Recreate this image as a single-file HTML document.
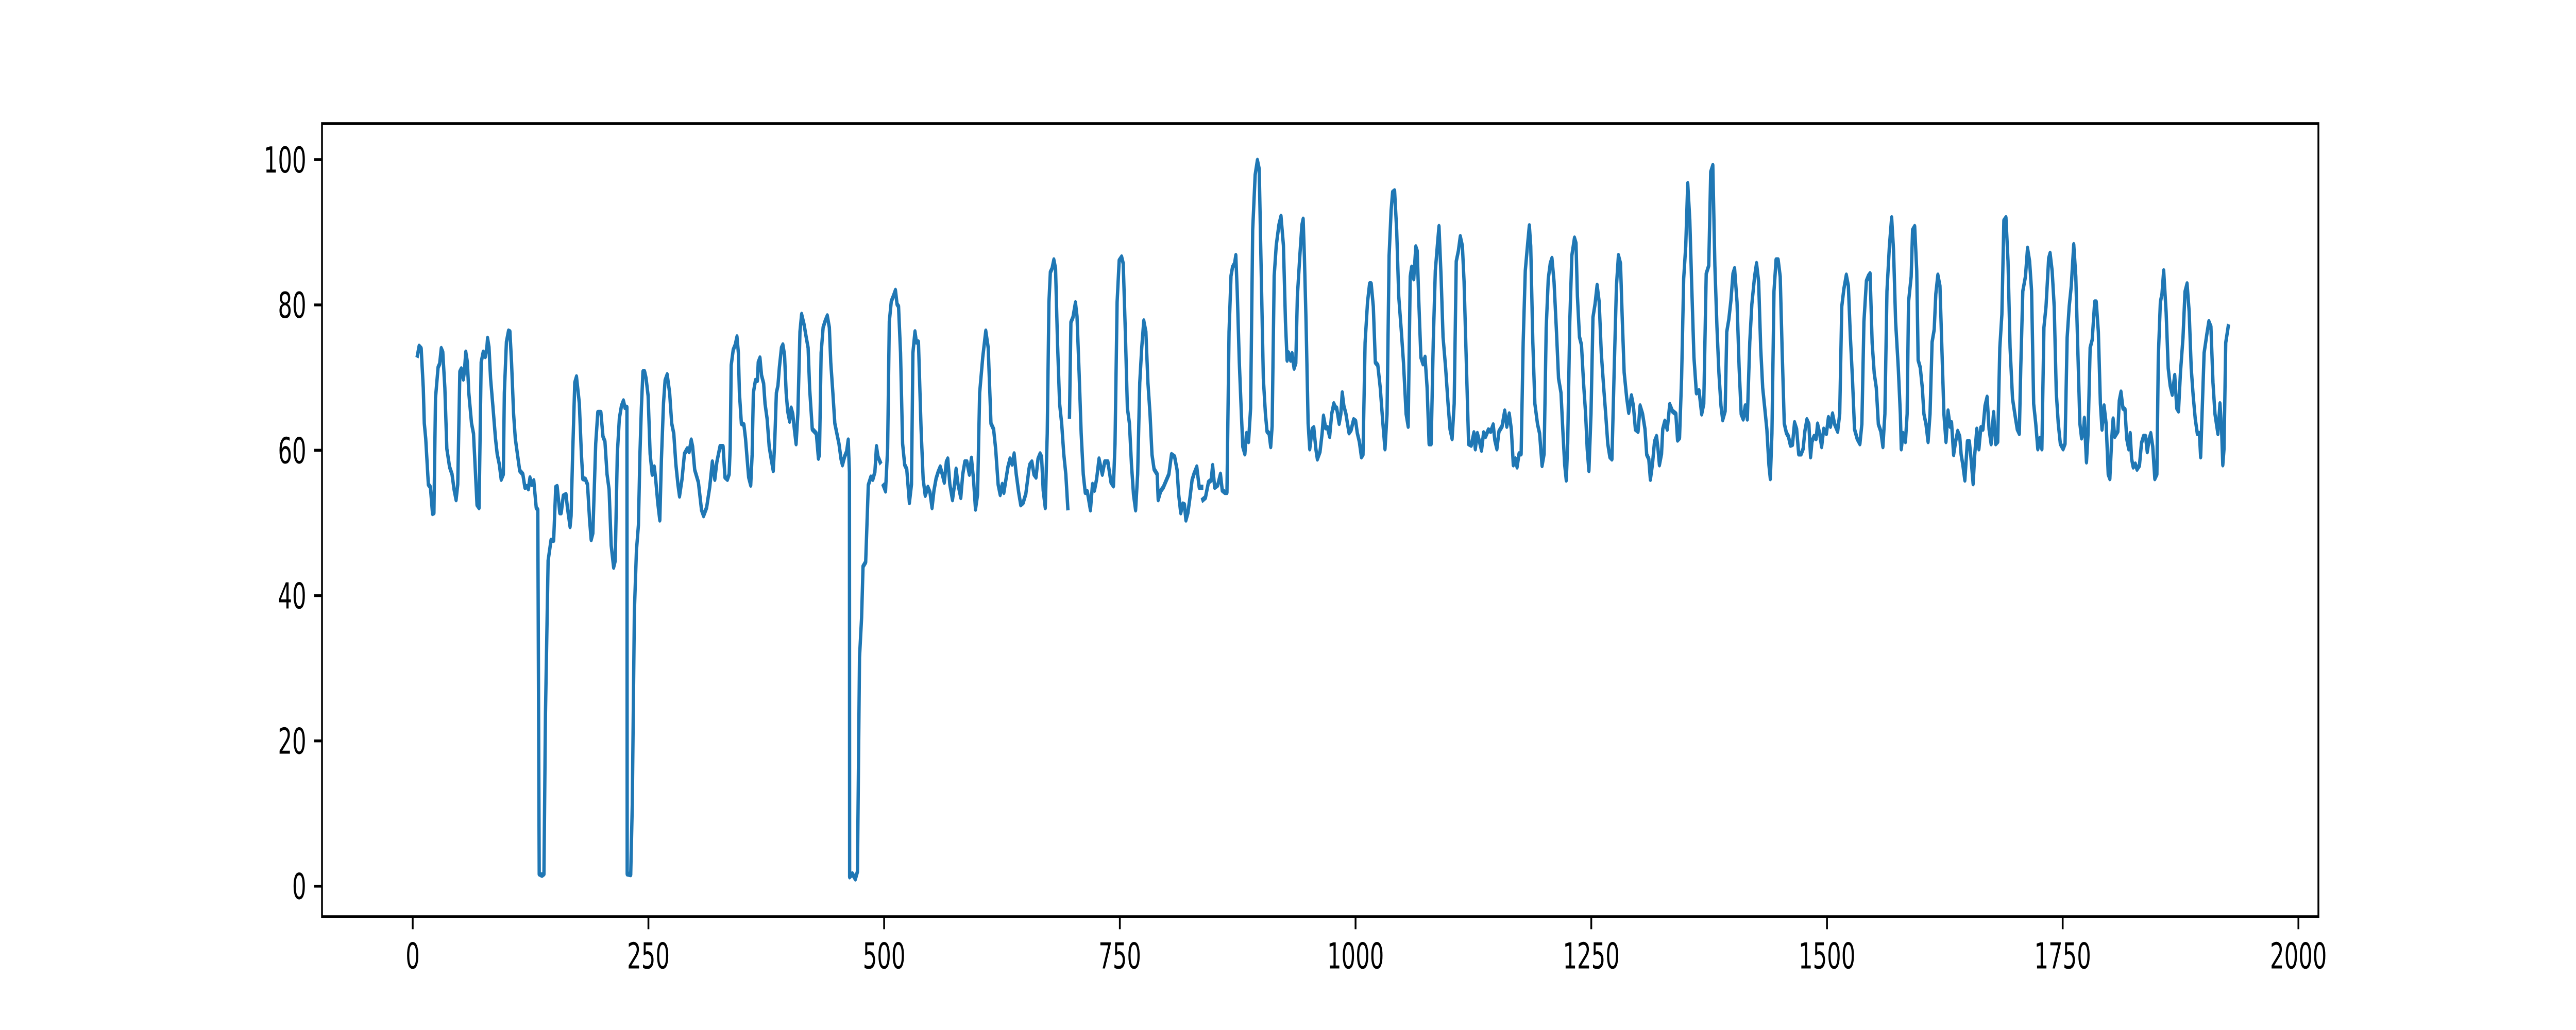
<!DOCTYPE html>
<html>
<head>
<meta charset="utf-8">
<style>
html,body{margin:0;padding:0;background:#fff;width:100%;height:100%;overflow:hidden;}
svg{display:block;width:100vw;height:100vh;}
text{font-family:"DejaVu Sans","Liberation Sans",sans-serif;font-size:69.4px;fill:#000;}
</style>
</head>
<body>
<svg id="chart" viewBox="0 0 8000 2000" preserveAspectRatio="none" xmlns="http://www.w3.org/2000/svg">
<rect x="0" y="0" width="8000" height="2000" fill="#fff"/>
<g id="plot"></g>
<g id="axes"></g>
</svg>
<script>
const xTicks = [0, 250, 500, 750, 1000, 1250, 1500, 1750, 2000];
const yTicks = [0, 20, 40, 60, 80, 100];
const seriesX = [5.1,6.8,9.0,11.2,12.3,13.8,16.6,18.8,21.0,22.5,24.2,26.9,28.6,30.3,31.9,34.1,36.2,39.1,41.7,43.9,46.0,47.8,50.0,51.5,53.7,54.7,56.3,58.0,59.5,62.4,64.5,66.1,68.2,70.4,72.6,74.8,77.0,78.7,79.4,80.9,82.6,85.2,87.8,89.6,91.8,93.9,96.1,97.2,99.4,101.6,103.1,104.8,107.0,108.8,111.8,113.5,116.8,119.0,121.2,122.7,124.4,126.2,128.4,131.0,132.7,134.2,137.1,139.2,140.8,143.6,146.7,149.5,151.7,153.2,156.0,157.5,159.7,162.6,164.1,166.9,168.0,169.5,171.9,173.7,176.7,178.9,180.4,183.2,185.4,187.6,189.3,191.1,194.1,196.3,199.6,201.8,203.9,206.1,208.3,210.5,213.1,214.8,217.0,219.2,221.4,223.5,225.1,227.2,227.5,231.2,232.9,235.1,237.3,239.4,241.0,242.5,244.2,246.0,247.5,249.7,251.8,254.0,256.2,257.7,259.9,262.1,263.8,266.0,267.7,269.9,272.5,274.7,276.9,279.1,281.3,283.0,285.6,288.2,291.1,293.2,295.4,296.9,299.1,303.0,306.3,308.5,311.7,315.0,317.8,320.4,322.6,325.9,329.2,
331.2,333.8,335.6,336.7,337.8,339.9,342.1,343.9,345.4,346.5,348.6,351.3,353.0,354.7,356.3,358.5,360.0,361.3,363.5,365.6,366.5,368.3,370.0,372.2,373.7,375.9,378.1,380.2,382.4,383.9,385.7,387.4,388.9,391.1,392.6,394.4,396.1,397.7,399.8,401.4,403.1,404.8,406.6,408.5,410.7,412.5,415.1,417.3,419.4,421.0,423.8,426.0,428.1,430.3,431.4,433.2,435.3,437.5,439.7,441.9,443.4,445.6,447.7,449.9,452.1,454.3,455.8,458.0,460.2,461.9,463.2,463.4,466.3,469.5,471.7,473.9,476.1,477.6,480.4,483.2,485.9,488.0,490.2,491.9,493.5,495.7,497.5,499.4,501.5,503.7,505.5,507.6,509.8,512.0,513.7,515.3,517.4,519.6,521.8,524.0,526.8,529.0,530.5,532.7,534.2,536.4,539.2,541.4,543.6,546.4,548.6,550.8,552.9,555.1,557.3,559.5,561.7,563.8,566.0,567.5,569.7,572.5,574.7,576.3,578.4,581.3,583.4,585.6,587.8,590.4,592.6,594.8,596.9,599.1,601.3,604.6,607.8,610.4,613.3,616.1,618.3,620.9,623.1,625.3,627.0,629.2,631.3,633.5,635.7,637.9,640.1,642.7,644.9,647.5,650.3,653.6,
654.5,656.7,658.9,661.1,663.2,665.4,667.0,668.7,670.9,673.0,674.8,676.3,678.1,680.0,681.8,683.9,686.1,688.3,690.5,692.7,694.8,695.7,696.6,698.1,700.3,702.9,704.6,706.8,709.0,711.2,713.3,715.5,717.0,718.8,721.0,723.1,725.3,727.9,731.4,734.0,737.3,740.6,743.2,744.9,747.1,749.3,751.9,753.6,755.8,758.0,760.2,762.3,764.5,766.7,768.9,771.1,773.2,775.4,777.6,779.8,782.0,784.1,786.3,789.6,790.7,793.3,796.1,799.4,802.0,804.8,808.1,810.7,812.4,814.6,816.8,818.5,820.1,822.2,824.4,826.6,828.8,831.6,834.2,836.8,837.5,838.1,840.8,844.0,846.9,848.4,850.6,853.8,856.7,858.6,861.4,863.6,865.8,867.9,869.5,871.7,873.0,874.5,876.7,878.9,880.4,882.6,884.3,886.5,888.7,890.9,893.5,895.9,897.8,899.6,902.2,904.4,906.1,908.3,910.0,911.5,913.7,915.9,918.7,920.9,923.5,925.7,927.4,928.9,931.1,932.7,934.8,936.6,938.3,940.9,943.1,944.4,945.7,947.5,949.7,951.4,954.0,955.7,957.9,959.5,962.3,964.5,966.0,968.2,970.3,972.5,974.7,976.9,979.0,
980.0,982.6,984.4,985.9,987.6,989.8,991.4,993.1,995.3,997.9,1000.1,1001.8,1004.0,1006.2,1007.9,1010.1,1012.7,1014.9,1016.6,1018.8,1021.0,1023.6,1026.2,1029.0,1031.2,1033.4,1035.6,1037.7,1039.3,1041.4,1043.6,1045.8,1048.6,1050.8,1053.6,1055.8,1058.0,1059.5,1061.7,1063.9,1065.4,1067.1,1069.3,1071.5,1073.7,1075.9,1078.0,1080.2,1082.4,1084.6,1086.7,1088.5,1090.7,1092.8,1095.5,1098.1,1100.2,1102.4,1104.6,1106.8,1109.0,1111.1,1113.3,1115.1,1117.2,1119.9,1122.7,1125.5,1127.0,1129.2,1131.4,1133.6,1135.8,1137.9,1140.8,1143.4,1146.0,1147.7,1149.9,1152.1,1155.4,1158.2,1160.4,1163.0,1165.2,1167.3,1169.5,1171.3,1173.4,1175.6,1177.8,1180.0,1182.1,1184.3,1185.8,1188.0,1190.2,1193.0,1195.2,1197.8,1200.0,1202.2,1204.4,1206.5,1208.3,1210.5,1213.1,1215.3,1217.9,1220.0,1221.8,1223.5,1225.0,1227.2,1229.4,1232.2,1233.8,1235.3,1237.5,1239.6,1241.8,1244.0,1245.7,1247.5,1249.7,1251.8,1254.0,1256.2,1258.4,1260.6,1263.2,1265.3,1267.5,1269.7,1271.9,1274.5,1276.7,1278.8,1281.0,1282.8,1284.9,1287.6,1289.7,1292.6,1294.7,
1296.8,1299.6,1301.8,1304.4,1307.0,1308.8,1311.0,1312.7,1314.9,1317.1,1319.2,1320.8,1322.3,1324.5,1325.8,1328.0,1330.6,1333.2,1336.0,1339.7,1341.5,1343.6,1345.8,1348.0,1350.2,1352.3,1354.5,1356.7,1358.9,1361.5,1364.3,1367.1,1369.3,1371.9,1374.6,1376.7,1378.9,1381.1,1383.3,1385.4,1387.6,1389.4,1392.0,1393.7,1395.9,1398.1,1400.3,1402.0,1404.6,1406.8,1409.0,1411.1,1413.3,1415.5,1418.1,1420.3,1423.2,1425.3,1427.5,1429.7,1431.8,1434.0,1436.2,1438.4,1439.9,1441.6,1443.8,1446.0,1448.2,1450.4,1452.5,1454.7,1456.9,1459.1,1461.2,1463.4,1465.6,1467.8,1470.0,1472.6,1474.7,1476.5,1478.7,1480.8,1482.6,1484.1,1486.3,1488.5,1490.0,1492.2,1494.3,1496.5,1499.4,1501.5,1503.7,1505.9,1508.1,1511.3,1513.5,1515.7,1517.9,1520.5,1522.7,1524.8,1527.0,1529.2,1532.0,1534.9,1537.0,1539.2,1541.8,1544.0,1545.7,1547.9,1550.1,1552.3,1554.5,1557.1,1559.3,1561.4,1563.6,1566.2,1568.6,1570.6,1572.8,1575.6,1577.8,1578.8,1580.6,1583.2,1585.0,1586.5,1589.3,1590.8,1593.0,1595.2,1596.7,1598.9,1601.1,1602.8,1605.0,1607.2,1609.3,1611.5,1613.7,1615.4,1617.6,1619.8,
1622.7,1624.0,1626.2,1628.4,1630.6,1632.1,1634.3,1636.4,1638.6,1640.8,1642.3,1644.1,1646.2,1648.9,1651.0,1652.8,1655.0,1656.7,1658.9,1661.1,1663.2,1665.4,1667.6,1669.8,1671.9,1674.1,1676.7,1678.9,1681.1,1683.3,1685.5,1687.6,1689.8,1692.0,1694.2,1696.8,1699.6,1701.8,1704.0,1705.5,1707.7,1710.5,1712.7,1714.9,1717.0,1719.2,1721.4,1723.6,1725.7,1727.9,1730.1,1732.3,1735.1,1736.6,1738.8,1741.0,1743.2,1745.3,1747.5,1750.4,1752.5,1754.7,1756.9,1759.1,1761.7,1763.9,1766.0,1768.2,1770.0,1772.1,1773.0,1775.2,1776.9,1779.1,1781.3,1783.9,1785.6,1787.8,1790.0,1791.7,1793.9,1796.1,1798.3,1800.0,1802.0,1803.5,1805.2,1808.5,1810.0,1811.8,1813.9,1816.1,1817.9,1820.0,1821.6,1823.1,1824.8,1827.0,1828.8,1831.4,1833.6,1835.7,1837.9,1839.7,1841.8,1843.4,1845.5,1847.7,1849.9,1851.4,1853.6,1855.3,1857.1,1859.7,1861.9,1864.0,1866.2,1868.8,1871.0,1872.8,1874.9,1877.6,1879.7,1881.9,1884.1,1886.3,1888.4,1890.6,1892.8,1895.0,1896.3,1897.8,1900.0,1902.8,1905.0,1907.2,1909.4,1911.5,1914.6,1916.8,1918.5,1919.8,1921.1,1922.9,1925.5];
const seriesY = [73.1,74.3,74.0,68.6,63.7,61.6,55.3,54.9,51.3,51.4,67.2,71.4,71.9,74.0,73.5,68.6,60.2,57.7,56.7,54.6,53.2,55.3,70.8,71.2,69.8,70.7,73.5,72.1,67.9,63.7,62.3,58.1,52.5,52.1,72.1,73.5,72.9,74.2,75.4,74.2,69.9,65.8,61.6,59.5,58.1,56.0,56.7,67.9,74.9,76.4,76.3,72.1,65.0,61.6,58.8,57.2,56.7,54.9,55.0,54.7,56.2,55.3,55.8,52.1,51.8,1.7,1.5,1.7,23.8,44.8,47.6,47.6,54.9,55.0,51.4,51.4,53.7,53.9,52.1,49.5,51.0,58.8,69.3,70.1,66.5,59.5,56.1,56.0,55.3,50.4,47.7,48.6,60.9,65.2,65.2,61.9,61.2,56.7,54.6,46.9,43.9,44.8,59.5,64.4,66.1,66.8,65.9,65.9,1.7,1.6,11.2,37.8,46.2,49.7,59.5,65.8,70.8,70.8,69.9,67.5,59.5,56.7,57.7,56.0,52.8,50.4,58.8,66.5,69.6,70.4,67.9,63.7,62.3,58.1,55.3,53.7,56.0,59.5,60.2,59.8,61.4,60.5,57.3,55.6,51.8,51.0,52.1,54.9,58.4,56.0,58.4,60.5,60.5,
56.3,56.0,56.7,60.2,71.7,73.8,74.5,75.6,73.4,67.9,63.7,63.5,61.6,58.8,56.3,55.2,59.4,67.9,69.6,69.6,72.1,72.7,70.3,69.2,66.4,64.3,60.5,58.8,57.2,60.9,67.9,68.9,71.4,74.1,74.5,73.1,67.9,65.4,64.0,65.8,65.0,62.9,60.9,65.0,76.3,78.7,77.3,75.6,74.1,68.5,62.9,62.6,62.3,58.9,59.4,73.4,76.9,77.8,78.5,76.9,72.1,67.9,63.7,62.3,60.9,58.8,58.0,59.1,59.8,61.4,57.0,1.3,1.7,1.0,2.0,31.5,37.0,44.0,44.6,55.2,56.3,56.0,57.0,60.5,59.1,58.4,null,55.1,54.4,60.2,77.7,80.5,81.2,82.0,80.1,79.8,73.4,60.9,58.0,57.4,52.8,55.3,73.4,76.3,74.9,74.9,62.9,56.0,53.8,54.9,54.2,52.1,54.5,56.1,57.0,57.7,56.7,55.6,58.4,58.8,55.3,53.2,55.3,57.4,55.3,53.5,56.7,58.4,58.4,56.7,58.9,56.0,51.9,53.9,67.9,72.8,76.4,74.1,63.7,62.9,60.2,55.3,53.9,55.3,54.2,56.0,57.7,58.8,58.1,59.5,56.7,54.2,52.5,52.8,54.0,57.4,
58.0,58.4,56.7,56.3,58.8,59.5,59.1,54.5,52.1,62.3,80.4,84.5,85.0,86.2,85.0,74.8,66.4,63.7,59.5,56.7,52.1,null,64.7,77.6,78.3,80.3,78.4,70.6,62.3,56.7,54.2,54.3,53.2,51.8,55.3,54.5,56.0,58.8,56.7,58.4,58.4,55.6,55.1,60.9,80.4,86.1,86.6,85.7,76.3,65.8,63.7,58.1,53.9,51.8,56.7,69.3,74.1,77.8,76.3,69.3,65.0,59.4,57.4,56.7,53.2,54.4,54.9,55.9,56.7,59.4,59.1,57.3,53.9,51.4,52.6,52.5,50.4,51.4,53.5,55.9,56.8,57.7,54.9,54.9,null,53.2,53.5,55.6,55.9,57.9,54.9,55.2,56.7,54.5,54.2,54.2,76.3,84.0,85.2,85.7,86.8,81.9,72.1,65.0,60.5,59.5,62.3,61.2,65.8,90.3,97.9,99.9,98.7,86.8,69.9,65.0,62.6,62.3,60.5,63.3,84.0,88.2,91.0,92.2,88.2,77.6,72.4,73.4,72.4,73.3,71.3,72.0,81.2,86.8,91.0,91.8,86.8,77.6,63.7,60.2,62.9,63.1,60.2,58.8,59.8,62.3,64.7,63.1,63.1,61.9,65.0,66.4,65.8,
65.8,63.7,65.0,67.9,66.1,65.0,63.7,62.4,62.8,64.2,64.0,62.4,61.2,59.1,59.4,74.8,80.4,82.9,82.9,79.8,72.1,71.7,68.6,63.7,60.2,65.0,86.8,93.0,95.5,95.7,90.3,81.2,76.3,72.1,65.0,63.3,83.9,85.2,83.6,88.0,87.4,80.4,72.8,71.9,72.8,68.6,60.9,60.9,74.9,84.7,88.1,90.8,83.9,75.6,71.4,66.4,62.9,61.6,66.4,86.0,87.4,89.4,88.1,83.2,73.4,60.9,60.7,62.4,60.2,62.3,61.2,60.0,62.4,61.9,62.8,62.6,63.5,61.4,60.2,62.6,63.3,65.4,63.3,65.0,62.9,58.0,58.8,57.7,59.5,59.5,74.9,84.7,87.8,90.9,88.1,74.9,66.4,63.6,62.3,57.9,59.5,76.9,83.6,85.7,86.4,83.2,76.3,69.9,67.9,62.3,58.0,55.9,60.9,77.7,86.8,89.2,88.5,81.2,75.6,74.5,69.3,65.0,60.2,57.2,65.0,78.3,80.1,82.7,80.4,73.4,68.6,65.0,60.9,59.1,58.8,72.1,82.6,86.8,85.7,78.3,70.7,67.2,65.2,67.5,66.1,
62.9,62.6,66.1,65.0,62.9,59.4,58.8,56.0,58.1,61.2,61.9,60.2,58.0,59.5,62.9,64.0,62.9,66.3,65.4,65.0,61.4,61.7,69.9,83.6,88.1,96.7,91.7,81.9,72.8,67.9,68.2,65.0,66.4,84.3,85.4,98.3,99.2,85.4,76.9,70.6,66.1,64.2,65.4,76.3,78.0,80.6,84.3,85.0,80.4,71.4,65.0,64.3,66.1,64.3,74.9,80.1,83.9,85.7,83.2,74.1,68.6,65.8,62.9,58.0,56.1,62.3,81.9,86.2,86.2,83.9,73.4,63.7,62.4,61.9,60.7,60.8,63.8,62.9,59.5,59.5,60.2,62.6,64.2,63.6,59.1,61.2,61.9,61.6,63.6,62.3,60.5,62.9,62.3,64.5,63.3,65.0,63.6,62.6,65.0,79.8,82.2,84.1,82.6,75.6,69.9,62.9,61.6,60.9,63.6,77.7,83.3,84.0,84.3,74.8,70.6,68.6,63.6,62.6,60.5,65.0,81.9,88.1,92.0,87.5,77.7,71.4,65.0,60.2,62.3,61.2,65.0,80.4,83.9,90.3,90.8,84.7,72.4,71.4,68.6,65.0,63.6,61.2,65.0,74.9,76.6,81.5,84.1,82.6,
70.6,65.0,61.2,65.4,63.3,63.8,59.4,61.2,62.6,61.9,59.4,58.0,55.9,61.2,61.2,58.8,55.4,59.4,62.9,60.2,63.1,62.9,66.1,67.3,62.9,60.9,65.2,60.9,61.2,74.1,78.7,91.6,92.0,86.0,74.1,67.1,64.7,62.9,62.3,71.3,81.9,83.9,87.8,86.0,81.9,66.4,63.7,60.2,61.6,60.2,76.9,79.8,86.4,87.1,84.7,79.8,67.9,63.7,60.9,60.2,60.9,75.5,79.8,82.6,88.3,83.9,74.1,63.7,61.7,62.6,64.4,58.4,62.3,74.1,75.2,80.4,80.4,76.3,66.4,62.9,66.1,63.6,56.7,56.1,61.6,64.3,61.9,62.6,66.8,68.0,65.8,65.6,61.6,60.2,62.3,58.8,57.7,58.1,57.4,57.9,61.0,61.9,61.9,59.8,61.6,62.3,60.5,56.1,56.7,72.8,80.4,81.5,84.7,79.0,71.3,68.9,67.7,70.3,65.8,65.4,70.7,75.5,81.8,82.9,79.1,71.3,67.5,64.3,62.3,62.3,59.1,65.0,73.4,75.9,77.7,77.0,69.3,65.0,62.3,66.4,62.9,58.0,60.2,74.8,77.0];

const AX = {left: 1000, right: 7200, top: 240, bottom: 1780};
const XLIM = [-96.2, 2021.2];
const YLIM = [-4.2, 104.96];
function sx(v){ return AX.left + (v - XLIM[0]) / (XLIM[1] - XLIM[0]) * (AX.right - AX.left); }
function sy(v){ return AX.bottom - (v - YLIM[0]) / (YLIM[1] - YLIM[0]) * (AX.bottom - AX.top); }

const NS = 'http://www.w3.org/2000/svg';
const plot = document.getElementById('plot');
const axes = document.getElementById('axes');

let d = '';
let pen = false;
const n = Math.min(seriesX.length, seriesY.length);
for (let i = 0; i < n; i++) {
  const v = seriesY[i];
  if (v === null || v === undefined) { pen = false; continue; }
  d += (pen ? 'L' : 'M') + sx(seriesX[i]).toFixed(1) + ' ' + sy(v).toFixed(1) + ' ';
  pen = true;
}
const line = document.createElementNS(NS, 'path');
line.setAttribute('d', d);
line.setAttribute('fill', 'none');
line.setAttribute('stroke', '#1f77b4');
line.setAttribute('stroke-width', '10.4');
line.setAttribute('stroke-linejoin', 'round');
line.setAttribute('stroke-linecap', 'square');


plot.appendChild(line);

const frame = document.createElementNS(NS, 'rect');
frame.setAttribute('x', AX.left);
frame.setAttribute('y', AX.top);
frame.setAttribute('width', AX.right - AX.left);
frame.setAttribute('height', AX.bottom - AX.top);
frame.setAttribute('fill', 'none');
frame.setAttribute('stroke', '#000');
frame.setAttribute('stroke-width', '5.6');


axes.appendChild(frame);

xTicks.forEach(function(t){
  const x = sx(t);
  const tk = document.createElementNS(NS, 'line');
  tk.setAttribute('x1', x); tk.setAttribute('x2', x);
  tk.setAttribute('y1', AX.bottom); tk.setAttribute('y2', AX.bottom + 24.3);
  tk.setAttribute('stroke', '#000'); tk.setAttribute('stroke-width', '5.6');
  
  
  axes.appendChild(tk);
  const lb = document.createElementNS(NS, 'text');
  lb.setAttribute('x', x); lb.setAttribute('y', AX.bottom + 24.3 + 24.3 + 52);
  lb.setAttribute('text-anchor', 'middle');
  lb.textContent = String(t);
  
  
  axes.appendChild(lb);
});

yTicks.forEach(function(t){
  const y = sy(t);
  const tk = document.createElementNS(NS, 'line');
  tk.setAttribute('x1', AX.left - 24.3); tk.setAttribute('x2', AX.left);
  tk.setAttribute('y1', y); tk.setAttribute('y2', y);
  tk.setAttribute('stroke', '#000'); tk.setAttribute('stroke-width', '5.6');
  
  
  axes.appendChild(tk);
  const lb = document.createElementNS(NS, 'text');
  lb.setAttribute('x', AX.left - 24.3 - 24.3); lb.setAttribute('y', y + 25);
  lb.setAttribute('text-anchor', 'end');
  lb.textContent = String(t);
  
  
  axes.appendChild(lb);
});
</script>
</body>
</html>
